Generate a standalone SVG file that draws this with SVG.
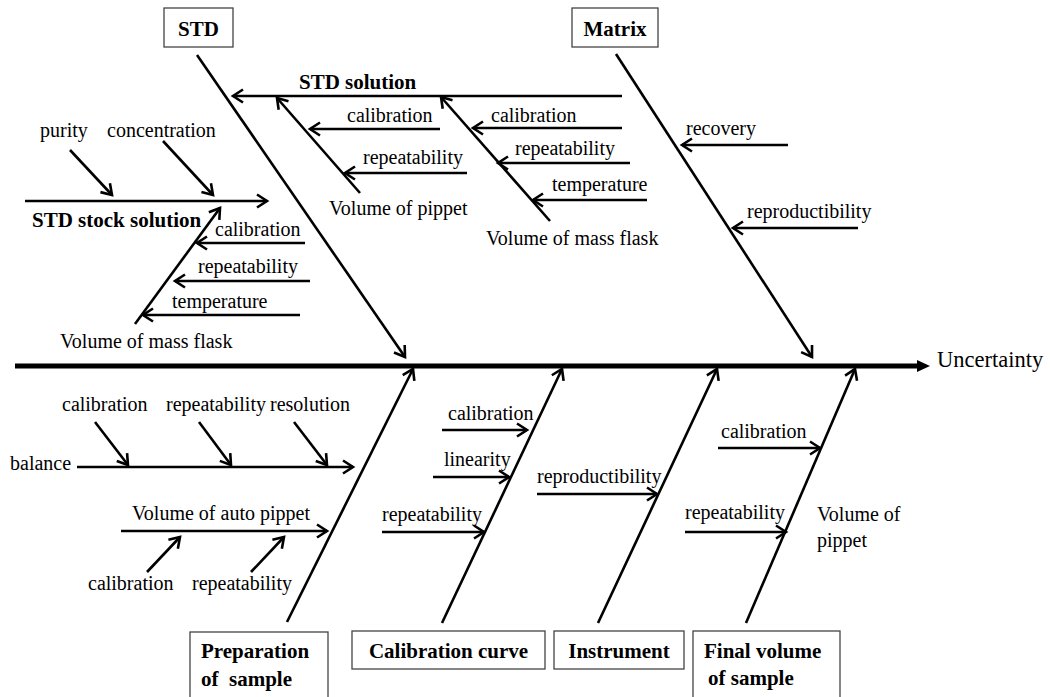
<svg xmlns="http://www.w3.org/2000/svg" width="1050" height="697" viewBox="0 0 1050 697">
<style>
.t{font-family:"Liberation Serif","Times New Roman",serif;font-size:20px;fill:#000}
.b{font-family:"Liberation Serif","Times New Roman",serif;font-size:21px;font-weight:bold;fill:#000}
.box{fill:#fff;stroke:#444;stroke-width:1.3}
.ln{stroke:#000;stroke-width:2.6;fill:none;marker-end:url(#ah)}
.bn{stroke:#000;stroke-width:2.6;fill:none}
</style>
<defs>
<marker id="ah" markerUnits="userSpaceOnUse" markerWidth="16" markerHeight="16" viewBox="0 0 16 16" refX="13" refY="8" orient="auto">
<path d="M3,1.5 L13,8 L3,14.5" fill="none" stroke="#000" stroke-width="2.6"/>
</marker>
</defs>
<rect width="1050" height="697" fill="#fff"/>
<g id="connectors">
<!-- spine -->
<line x1="15" y1="366" x2="920" y2="366" stroke="#000" stroke-width="5"/>
<polygon points="917,360 930,366 917,372" fill="#000"/>
<!-- top bones -->
<line class="ln" x1="197" y1="55" x2="405" y2="357"/>
<line class="ln" x1="616" y1="54" x2="812" y2="357"/>
<!-- STD solution -->
<line class="ln" x1="622" y1="96" x2="233" y2="96"/>
<line class="ln" x1="360" y1="193" x2="277" y2="98"/>
<line class="ln" x1="440" y1="129" x2="310" y2="129"/>
<line class="ln" x1="467" y1="173" x2="345" y2="173"/>
<line class="ln" x1="550" y1="221" x2="441" y2="97"/>
<line class="ln" x1="622" y1="128" x2="473" y2="128"/>
<line class="ln" x1="630" y1="163" x2="498" y2="163"/>
<line class="ln" x1="647" y1="200" x2="533" y2="200"/>
<!-- Matrix -->
<line class="ln" x1="788" y1="145" x2="682" y2="145"/>
<line class="ln" x1="858" y1="228" x2="733" y2="228"/>
<!-- STD stock solution -->
<line class="ln" x1="25" y1="201" x2="267" y2="201"/>
<line class="ln" x1="70" y1="150" x2="112" y2="195"/>
<line class="ln" x1="163" y1="141" x2="213" y2="195"/>
<line class="ln" x1="135" y1="324" x2="220" y2="208"/>
<line class="ln" x1="305" y1="243" x2="197" y2="243"/>
<line class="ln" x1="310" y1="281" x2="175" y2="281"/>
<line class="ln" x1="300" y1="315" x2="143" y2="315"/>
<!-- bottom bones -->
<line class="ln" x1="287" y1="622" x2="413" y2="369"/>
<line class="ln" x1="442" y1="623" x2="562" y2="369"/>
<line class="ln" x1="598" y1="623" x2="717" y2="369"/>
<line class="ln" x1="746" y1="623" x2="855" y2="369"/>
<!-- balance -->
<line class="ln" x1="77" y1="467" x2="353" y2="467"/>
<line class="ln" x1="95" y1="422" x2="128" y2="465"/>
<line class="ln" x1="199" y1="422" x2="231" y2="465"/>
<line class="ln" x1="294" y1="422" x2="327" y2="465"/>
<!-- auto pippet -->
<line class="ln" x1="121" y1="531" x2="327" y2="531"/>
<line class="ln" x1="147" y1="572" x2="180" y2="537"/>
<line class="ln" x1="251" y1="572" x2="284" y2="537"/>
<!-- calibration curve -->
<line class="ln" x1="442" y1="430" x2="527" y2="430"/>
<line class="ln" x1="433" y1="477" x2="509" y2="477"/>
<line class="ln" x1="382" y1="532" x2="484" y2="532"/>
<!-- instrument -->
<line class="ln" x1="537" y1="494" x2="657" y2="494"/>
<!-- final volume -->
<line class="ln" x1="718" y1="448" x2="820" y2="448"/>
<line class="ln" x1="685" y1="532" x2="786" y2="532"/>
</g>
<g id="node-std"><rect class="box" x="164" y="8" width="69" height="39"/><text class="b" x="198.5" y="36" text-anchor="middle">STD</text></g>
<g id="node-matrix"><rect class="box" x="572" y="8" width="86" height="39"/><text class="b" x="615" y="36" text-anchor="middle">Matrix</text></g>
<g id="node-prep"><rect class="box" x="190" y="632" width="138" height="75"/><text class="b" x="201" y="658">Preparation</text><text class="b" x="201" y="686" xml:space="preserve">of  sample</text></g>
<g id="node-calcurve"><rect class="box" x="352" y="631" width="193" height="38"/><text class="b" x="448.5" y="658" text-anchor="middle">Calibration curve</text></g>
<g id="node-instrument"><rect class="box" x="554" y="631" width="130" height="38"/><text class="b" x="619" y="658" text-anchor="middle">Instrument</text></g>
<g id="node-final"><rect class="box" x="693" y="631" width="147" height="75"/><text class="b" x="704" y="658">Final volume</text><text class="b" x="708" y="685">of sample</text></g>
<g id="node-uncertainty"><text class="t" x="937" y="367" style="font-size:22.5px">Uncertainty</text></g>
<g id="labels">
<text class="b" x="299" y="89">STD solution</text>
<text class="t" x="347" y="122">calibration</text>
<text class="t" x="363" y="164">repeatability</text>
<text class="t" x="329" y="215">Volume of pippet</text>
<text class="t" x="491" y="122">calibration</text>
<text class="t" x="515" y="155">repeatability</text>
<text class="t" x="552" y="191">temperature</text>
<text class="t" x="486" y="245">Volume of mass flask</text>
<text class="t" x="686" y="135">recovery</text>
<text class="t" x="747" y="218">reproductibility</text>
<text class="t" x="40" y="137">purity</text>
<text class="t" x="107" y="137">concentration</text>
<text class="b" x="32" y="227">STD stock solution</text>
<text class="t" x="215" y="236">calibration</text>
<text class="t" x="198" y="273">repeatability</text>
<text class="t" x="172" y="308">temperature</text>
<text class="t" x="60" y="348">Volume of mass flask</text>
<text class="t" x="10" y="470">balance</text>
<text class="t" x="62" y="411">calibration</text>
<text class="t" x="166" y="411">repeatability</text>
<text class="t" x="270" y="411">resolution</text>
<text class="t" x="132" y="520">Volume of auto pippet</text>
<text class="t" x="88" y="590">calibration</text>
<text class="t" x="192" y="590">repeatability</text>
<text class="t" x="448" y="420">calibration</text>
<text class="t" x="444" y="466">linearity</text>
<text class="t" x="382" y="521">repeatability</text>
<text class="t" x="537" y="483">reproductibility</text>
<text class="t" x="721" y="438">calibration</text>
<text class="t" x="685" y="519">repeatability</text>
<text class="t" x="817" y="521">Volume of</text>
<text class="t" x="817" y="547">pippet</text>
</g>
</svg>
